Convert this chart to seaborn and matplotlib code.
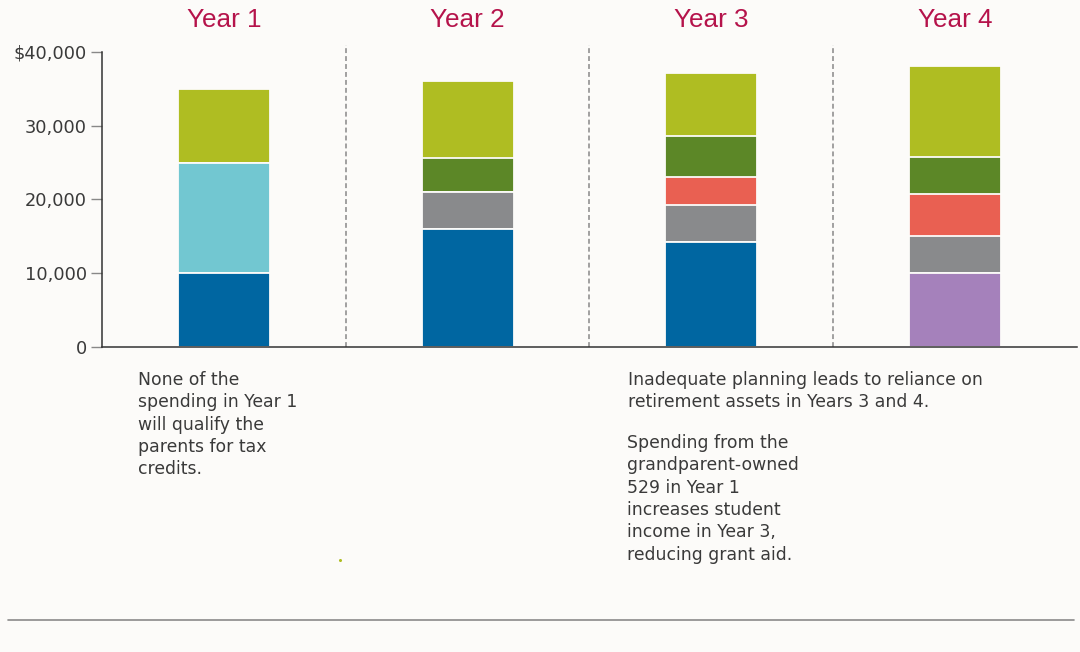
"""Four-year college spending, stacked by funding source."""

import matplotlib

matplotlib.use("Agg")
import matplotlib.pyplot as plt
import numpy as np
import pandas as pd
import seaborn as sns

sns.set_style("white")
plt.rcParams["font.family"] = ["DejaVu Sans"]

BG = "#fcfbf9"
INK = "#3a3a3a"
HEAD = "#b5134b"

YEARS = ["Year 1", "Year 2", "Year 3", "Year 4"]

# Segment heights in dollars, stacked bottom -> top
BLUE = [10000, 16000, 14200, 0]
PURPLE = [0, 0, 0, 10000]
CYAN = [15000, 0, 0, 0]
GRAY = [0, 5000, 5000, 5000]
RED = [0, 0, 3900, 5700]
DKGREEN = [0, 4600, 5500, 5100]
LIME = [10000, 10500, 8500, 12300]

LAYERS = [
    ("blue", BLUE, "#0066a1"),
    ("purple", PURPLE, "#a581bb"),
    ("cyan", CYAN, "#72c7d1"),
    ("gray", GRAY, "#898a8c"),
    ("red", RED, "#e96052"),
    ("dkgreen", DKGREEN, "#5c8727"),
    ("lime", LIME, "#afbd22"),
]

Y_TICKS = [0, 10000, 20000, 30000, 40000]
Y_LABELS = ["0", "10,000", "20,000", "30,000", "$40,000"]

NOTE_Y1 = "None of the\nspending in Year 1\nwill qualify the\nparents for tax\ncredits."
NOTE_RET = "Inadequate planning leads to reliance on\nretirement assets in Years 3 and 4."
NOTE_529 = ("Spending from the\ngrandparent-owned\n529 in Year 1\nincreases student\n"
            "income in Year 3,\nreducing grant aid.")


def main() -> None:
    fig = plt.figure(figsize=(10.8, 6.52), dpi=100, facecolor=BG)
    ax = fig.add_axes([0.0944, 0.4678, 0.9028, 0.4639])
    ax.set_facecolor(BG)

    # cumulative tops; draw tallest first so lower layers paint over
    tops = np.cumsum(np.array([v for _, v, _ in LAYERS]), axis=0)
    for (name, _, colour), top in reversed(list(zip(LAYERS, tops))):
        df = pd.DataFrame({"year": YEARS, "value": top})
        sns.barplot(data=df, x="year", y="value", color=colour, width=0.377,
                    edgecolor=BG, linewidth=1.3, saturation=1, ax=ax, zorder=2)

    ax.set_xlim(-0.5, 3.5)
    ax.set_ylim(0, 41000)
    ax.set_xlabel("")
    ax.set_ylabel("")
    ax.set_xticks([])
    ax.set_yticks(Y_TICKS)
    ax.set_yticklabels(Y_LABELS, fontsize=12.8, color=INK)
    ax.tick_params(axis="y", length=8, width=1, color="#888888", pad=3, left=True)

    for side in ["top", "right"]:
        ax.spines[side].set_visible(False)
    ax.spines["left"].set_bounds(0, 40000)
    ax.spines["left"].set_color("#333333")
    ax.spines["bottom"].set_color("#333333")
    ax.spines["left"].set_linewidth(1.1)
    ax.spines["bottom"].set_linewidth(1.1)

    for x in [0.5, 1.5, 2.5]:
        ax.axvline(x, color="#888888", lw=1.1, ls=(0, (3.2, 2)), zorder=1)

    for i, year in enumerate(YEARS):
        ax.text(i, 44300, year, ha="center", va="center", fontsize=18.8,
                color=HEAD, clip_on=False, family="Liberation Sans")

    note = dict(ha="left", va="top", fontsize=12.4, color=INK, linespacing=1.31)
    fig.text(138 / 1080, 1 - 371 / 652, NOTE_Y1, **note)
    fig.text(628 / 1080, 1 - 371 / 652, NOTE_RET, **note)
    fig.text(627 / 1080, 1 - 434 / 652, NOTE_529, **note)

    # stray dot and footer rule
    fig.add_artist(plt.Line2D([340 / 1080], [1 - 560 / 652], marker="o",
                              markersize=1.2, color="#afbd22", lw=0))
    fig.add_artist(plt.Line2D([8 / 1080, 1074 / 1080], [1 - 620 / 652] * 2,
                              color="#8a8a8a", lw=1.2))

    fig.savefig("out.png", dpi=100, facecolor=BG)
    plt.close(fig)


if __name__ == "__main__":
    main()
